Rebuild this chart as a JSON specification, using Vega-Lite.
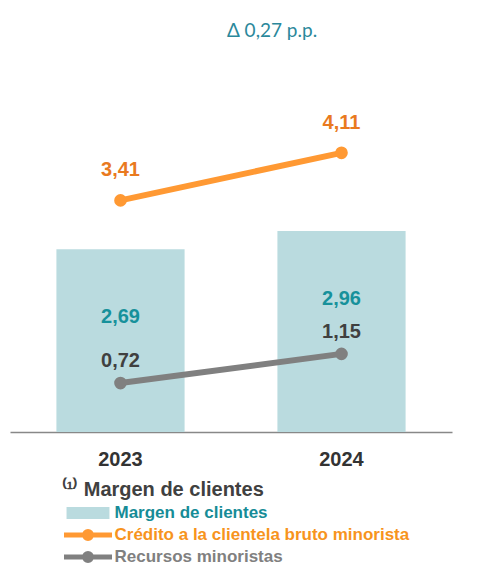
{
  "$schema": "https://vega.github.io/schema/vega-lite/v6.json",
  "width": 442,
  "height": 360,
  "autosize": {"type": "none"},
  "padding": {"left": 10, "top": 72, "right": 27, "bottom": 135},
  "config": {
    "view": {"stroke": null},
    "font": "Liberation Sans",
    "locale": {"number": {"decimal": ",", "thousands": ".", "grouping": [3], "currency": ["", " €"]}}
  },
  "title": {
    "text": "Δ 0,27 p.p.",
    "font": "Lato",
    "fontSize": 19,
    "fontWeight": "normal",
    "color": "#2b889b",
    "anchor": "middle",
    "dx": 41,
    "offset": 12,
    "baseline": "bottom"
  },
  "data": {
    "values": [
      {"year": "2023", "serie": "Margen de clientes", "value": 2.69},
      {"year": "2024", "serie": "Margen de clientes", "value": 2.96},
      {"year": "2023", "serie": "Crédito a la clientela bruto minorista", "value": 3.41},
      {"year": "2024", "serie": "Crédito a la clientela bruto minorista", "value": 4.11},
      {"year": "2023", "serie": "Recursos minoristas", "value": 0.72},
      {"year": "2024", "serie": "Recursos minoristas", "value": 1.15}
    ]
  },
  "encoding": {
    "x": {
      "field": "year",
      "type": "nominal",
      "scale": {"paddingInner": 0.42, "paddingOuter": 0.21},
      "axis": {
        "title": null,
        "labelAngle": 0,
        "ticks": false,
        "grid": false,
        "labelPadding": 17,
        "labelFontSize": 20,
        "labelFontWeight": "bold",
        "labelColor": "#333333",
        "domainColor": "#888888",
        "domainWidth": 1.5
      }
    },
    "y": {
      "field": "value",
      "type": "quantitative",
      "scale": {"domain": [0, 5.3]},
      "axis": null
    }
  },
  "layer": [
    {
      "transform": [{"filter": "datum.serie === 'Margen de clientes'"}],
      "mark": {"type": "bar"},
      "encoding": {
        "color": {
          "field": "serie",
          "type": "nominal",
          "scale": {
            "domain": ["Margen de clientes", "Crédito a la clientela bruto minorista", "Recursos minoristas"],
            "range": ["#badbdf", "#ff9933", "#808080"]
          },
          "legend": {
            "orient": "none",
            "legendX": 51.5,
            "legendY": 408,
            "title": "⁽¹⁾ Margen de clientes",
            "titleFont": "Liberation Sans",
            "titleFontSize": 20,
            "titleFontWeight": "bold",
            "titleColor": "#404040",
            "titlePadding": 3,
            "titleLimit": 400,
            "labelFont": "Liberation Sans",
            "labelFontSize": 17,
            "labelFontWeight": "bold",
            "labelOffset": 0,
            "labelLimit": 400,
            "symbolSize": 2304,
            "symbolStrokeWidth": 5,
            "clipHeight": 20,
            "rowPadding": 2,
            "encode": {
              "symbols": {
                "update": {
                  "shape": {"signal": "datum.value === 'Margen de clientes' ? 'M-0.79,-0.146H0.79V0.146H-0.79Z' : 'M-1,0H1M0.146,0A0.146,0.146 0 1,1 -0.146,0A0.146,0.146 0 1,1 0.146,0Z'"},
                  "fill": {"signal": "datum.value === 'Margen de clientes' ? '#badbdf' : datum.value === 'Recursos minoristas' ? '#808080' : '#ff9933'"},
                  "stroke": {"signal": "datum.value === 'Margen de clientes' ? '#badbdf' : datum.value === 'Recursos minoristas' ? '#808080' : '#ff9933'"},
                  "fillOpacity": {"value": 1},
                  "strokeOpacity": {"value": 1},
                  "opacity": {"value": 1}
                }
              },
              "labels": {
                "update": {
                  "fill": {"signal": "datum.value === 'Margen de clientes' ? '#168c97' : datum.value === 'Recursos minoristas' ? '#808080' : '#f7941d'"}
                }
              }
            }
          }
        }
      }
    },
    {
      "transform": [{"filter": "datum.serie !== 'Margen de clientes'"}],
      "mark": {"type": "line", "strokeWidth": 6, "point": {"filled": true, "size": 160, "opacity": 1}},
      "encoding": {
        "color": {"field": "serie", "type": "nominal"}
      }
    },
    {
      "transform": [{"filter": "datum.serie === 'Margen de clientes'"}],
      "mark": {"type": "text", "dy": 68, "fontSize": 20, "fontWeight": "bold", "color": "#17919b", "baseline": "middle"},
      "encoding": {"text": {"field": "value", "type": "quantitative", "format": ".2f"}}
    },
    {
      "transform": [{"filter": "datum.serie === 'Crédito a la clientela bruto minorista'"}],
      "mark": {"type": "text", "dy": -30, "fontSize": 20, "fontWeight": "bold", "color": "#e97a1f", "baseline": "middle"},
      "encoding": {"text": {"field": "value", "type": "quantitative", "format": ".2f"}}
    },
    {
      "transform": [{"filter": "datum.serie === 'Recursos minoristas'"}],
      "mark": {"type": "text", "dy": -22, "fontSize": 20, "fontWeight": "bold", "color": "#404040", "baseline": "middle"},
      "encoding": {"text": {"field": "value", "type": "quantitative", "format": ".2f"}}
    }
  ]
}
